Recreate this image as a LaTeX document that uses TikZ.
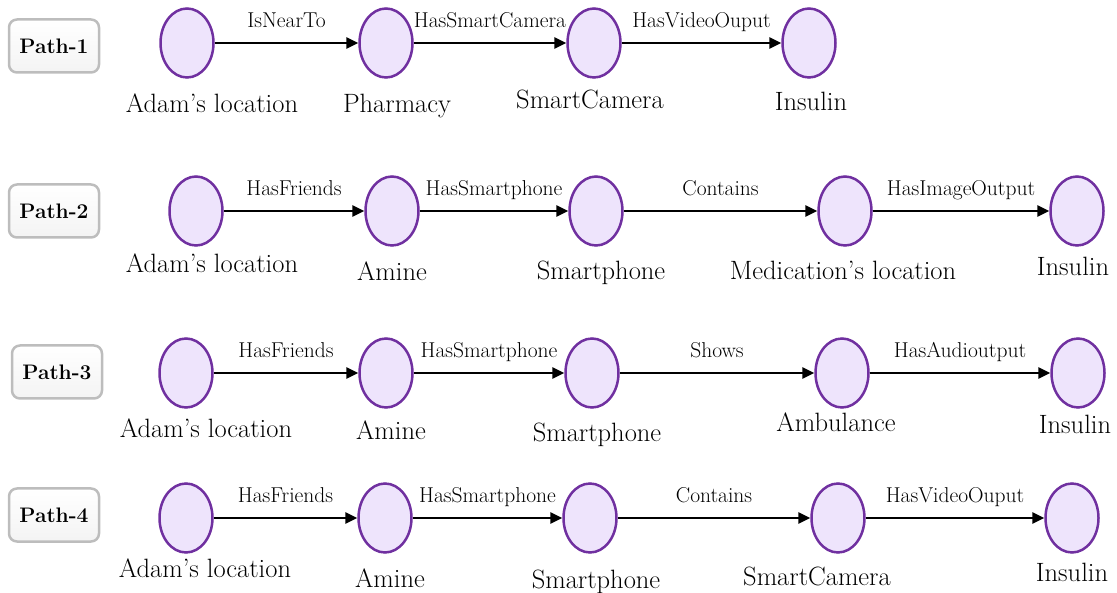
\documentclass[tikz,border=0pt]{standalone}
\usetikzlibrary{arrows.meta,shapes.geometric}
\definecolor{nodefill}{HTML}{EEE4FC}
\definecolor{nodeedge}{HTML}{7030A0}
\definecolor{boxfill}{HTML}{EFEFEF}
\definecolor{boxedge}{HTML}{BDBDBD}
\begin{document}
\begin{tikzpicture}[x=1pt,y=-1pt,
 ent/.style={ellipse, draw=nodeedge, fill=nodefill, line width=2.5pt, minimum width=53pt, minimum height=69pt, inner sep=0pt},
 rel/.style={-{Triangle[length=12pt,width=11pt]}, line width=2.6pt},
 elab/.style={font=\fontsize{21.5}{24}\selectfont, anchor=base, yshift=15pt, inner sep=0pt},
 nlab/.style={font=\fontsize{26.5}{30}\selectfont, anchor=base, inner sep=0pt},
 pathbox/.style={rounded corners=8pt, draw=boxedge, top color=white, bottom color=boxfill!80!gray!30, line width=2.5pt, minimum width=90pt, minimum height=53pt, font=\fontsize{21}{24}\selectfont\bfseries}]
\useasboundingbox (0,0) rectangle (1117,593);
% Path boxes
\node[pathbox] (p1) at (54,46) {Path-1};
\node[pathbox] (p2) at (54,211) {Path-2};
\node[pathbox] (p3) at (57,372) {Path-3};
\node[pathbox] (p4) at (54,515) {Path-4};
% Row 1
\node[ent] (a1) at (187,43) {};
\node[ent] (b1) at (386,43) {};
\node[ent] (c1) at (594,43) {};
\node[ent] (d1) at (809,43) {};
\draw[rel] (a1) -- node[elab] {IsNearTo} (b1);
\draw[rel] (b1) -- node[elab] {HasSmartCamera} (c1);
\draw[rel] (c1) -- node[elab] {HasVideoOuput} (d1);
\node[nlab] (la1) at (212,113) {Adam's location};
\node[nlab] (lb1) at (397,113) {Pharmacy};
\node[nlab] (lc1) at (590,109) {SmartCamera};
\node[nlab] (ld1) at (811,111) {Insulin};
% Row 2
\node[ent] (a2) at (196,211) {};
\node[ent] (b2) at (392,211) {};
\node[ent] (c2) at (596,211) {};
\node[ent] (d2) at (845,211) {};
\node[ent] (e2) at (1077,211) {};
\draw[rel] (a2) -- node[elab] {HasFriends} (b2);
\draw[rel] (b2) -- node[elab] {HasSmartphone} (c2);
\draw[rel] (c2) -- node[elab] {Contains} (d2);
\draw[rel] (d2) -- node[elab] {HasImageOutput} (e2);
\node[nlab] (la2) at (212,273) {Adam's location};
\node[nlab] (lb2) at (392,281) {Amine};
\node[nlab] (lc2) at (601,280) {Smartphone};
\node[nlab] (ld2) at (843,280) {Medication's location};
\node[nlab] (le2) at (1073,276) {Insulin};
% Row 3
\node[ent] (a3) at (186,373) {};
\node[ent] (b3) at (386,373) {};
\node[ent] (c3) at (592,373) {};
\node[ent] (d3) at (842,373) {};
\node[ent] (e3) at (1078,373) {};
\draw[rel] (a3) -- node[elab] {HasFriends} (b3);
\draw[rel] (b3) -- node[elab] {HasSmartphone} (c3);
\draw[rel] (c3) -- node[elab] {Shows} (d3);
\draw[rel] (d3) -- node[elab] {HasAudioutput} (e3);
\node[nlab] (la3) at (206,438) {Adam's location};
\node[nlab] (lb3) at (391,440) {Amine};
\node[nlab] (lc3) at (597,442) {Smartphone};
\node[nlab] (ld3) at (836,432) {Ambulance};
\node[nlab] (le3) at (1075,434) {Insulin};
% Row 4
\node[ent] (a4) at (186,518) {};
\node[ent] (b4) at (385,518) {};
\node[ent] (c4) at (590,518) {};
\node[ent] (d4) at (838,518) {};
\node[ent] (e4) at (1072,518) {};
\draw[rel] (a4) -- node[elab] {HasFriends} (b4);
\draw[rel] (b4) -- node[elab] {HasSmartphone} (c4);
\draw[rel] (c4) -- node[elab] {Contains} (d4);
\draw[rel] (d4) -- node[elab] {HasVideoOuput} (e4);
\node[nlab] (la4) at (205,577) {Adam's location};
\node[nlab] (lb4) at (390,587) {Amine};
\node[nlab] (lc4) at (596,588) {Smartphone};
\node[nlab] (ld4) at (817,585) {SmartCamera};
\node[nlab] (le4) at (1072,581) {Insulin};
\end{tikzpicture}
\end{document}
